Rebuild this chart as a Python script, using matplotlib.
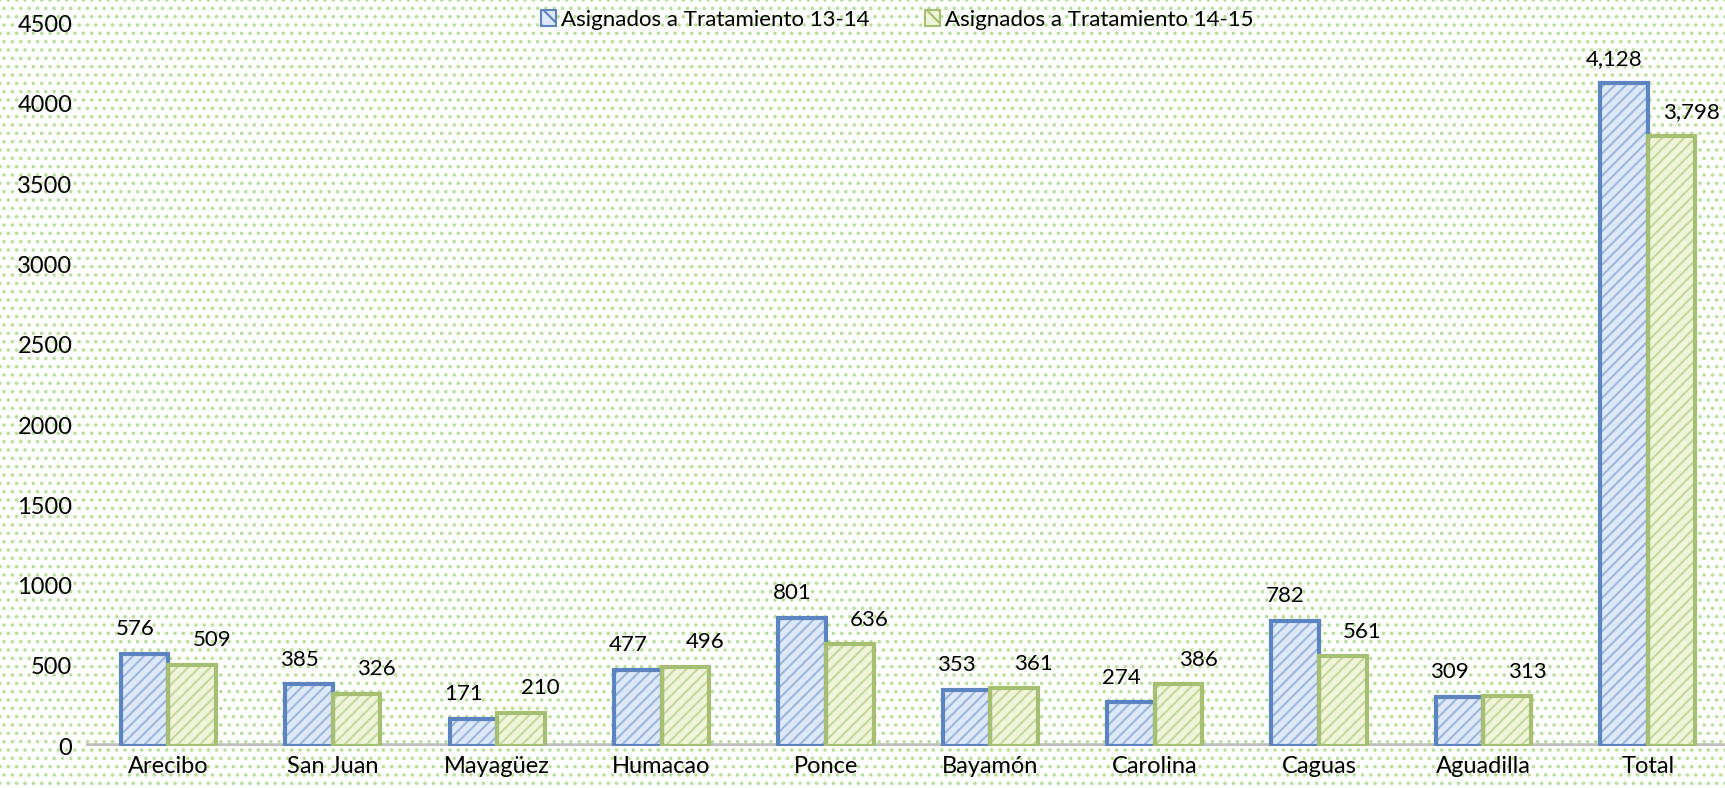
import numpy as np
import matplotlib.pyplot as plt
from matplotlib.patches import Rectangle, Patch

# Datos por región
regiones = ['Arecibo', 'San Juan', 'Mayagüez', 'Humacao', 'Ponce', 'Bayamón',
            'Carolina', 'Caguas', 'Aguadilla', 'Total']
trat_13_14 = [576, 385, 171, 477, 801, 353, 274, 782, 309, 4128]
trat_14_15 = [509, 326, 210, 496, 636, 361, 386, 561, 313, 3798]
series = ['Asignados a Tratamiento 13-14', 'Asignados a Tratamiento 14-15']

plt.rcParams['font.family'] = ['Lato', 'DejaVu Sans']

fig = plt.figure(figsize=(17.25, 7.88), dpi=100)

# Fondo punteado verde
plt.rcParams['hatch.linewidth'] = 1.3
fondo = Rectangle((0, 0), 1, 1, transform=fig.transFigure, facecolor='white',
                  edgecolor='#b4e195', hatch='..', linewidth=0, zorder=-10)
fig.patches.append(fondo)

plt.rcParams['hatch.linewidth'] = 1.5
ax = fig.add_axes([0.05, 0.053, 0.95, 0.917])
ax.set_facecolor('none')

x = np.arange(len(regiones))
w = 0.29

# relleno rayado
ax.bar(x - w / 2, trat_13_14, w, facecolor='#dde9f8', edgecolor='#9db7de',
       hatch='///', linewidth=0, zorder=3)
ax.bar(x + w / 2, trat_14_15, w, facecolor='#eef5d8', edgecolor='#c6d99e',
       hatch='///', linewidth=0, zorder=3)
# contornos
ax.bar(x - w / 2, trat_13_14, w, facecolor='none', edgecolor='#5b84c0',
       linewidth=3, zorder=4)
ax.bar(x + w / 2, trat_14_15, w, facecolor='none', edgecolor='#a6bf73',
       linewidth=3, zorder=4)

# Etiquetas de valores
for xi, v in zip(x, trat_13_14):
    ax.text(xi - w / 2 - 0.06, v + 90, f'{v:,}', ha='center', va='bottom', fontsize=16)
for xi, v in zip(x, trat_14_15):
    ax.text(xi + w / 2 + 0.12, v + 90, f'{v:,}', ha='center', va='bottom', fontsize=16)

ax.set_xlim(-0.5, 9.47)
ax.set_ylim(0, 4500)
ax.set_yticks(np.arange(0, 4501, 500))
ax.set_xticks(x)
ax.set_xticklabels(regiones)
ax.tick_params(axis='both', length=0, labelsize=17)
ax.tick_params(axis='y', pad=10)
ax.tick_params(axis='x', pad=7)
for s in ax.spines.values():
    s.set_visible(False)
ax.axhline(0, color='#bfbfbf', linewidth=4, zorder=2)

# leyenda con parches rayados
handles = [Patch(facecolor='#dde9f8', edgecolor='#5b84c0', hatch='\\\\', linewidth=1.5),
           Patch(facecolor='#eef5d8', edgecolor='#a6bf73', hatch='\\\\', linewidth=1.5)]
fig.legend(handles, series, loc='center', bbox_to_anchor=(0.52, 0.975), ncol=2,
           frameon=False, fontsize=16, handlelength=0.7, handleheight=0.7,
           columnspacing=2.5, handletextpad=0.2)

plt.savefig('out.png', dpi=100)
